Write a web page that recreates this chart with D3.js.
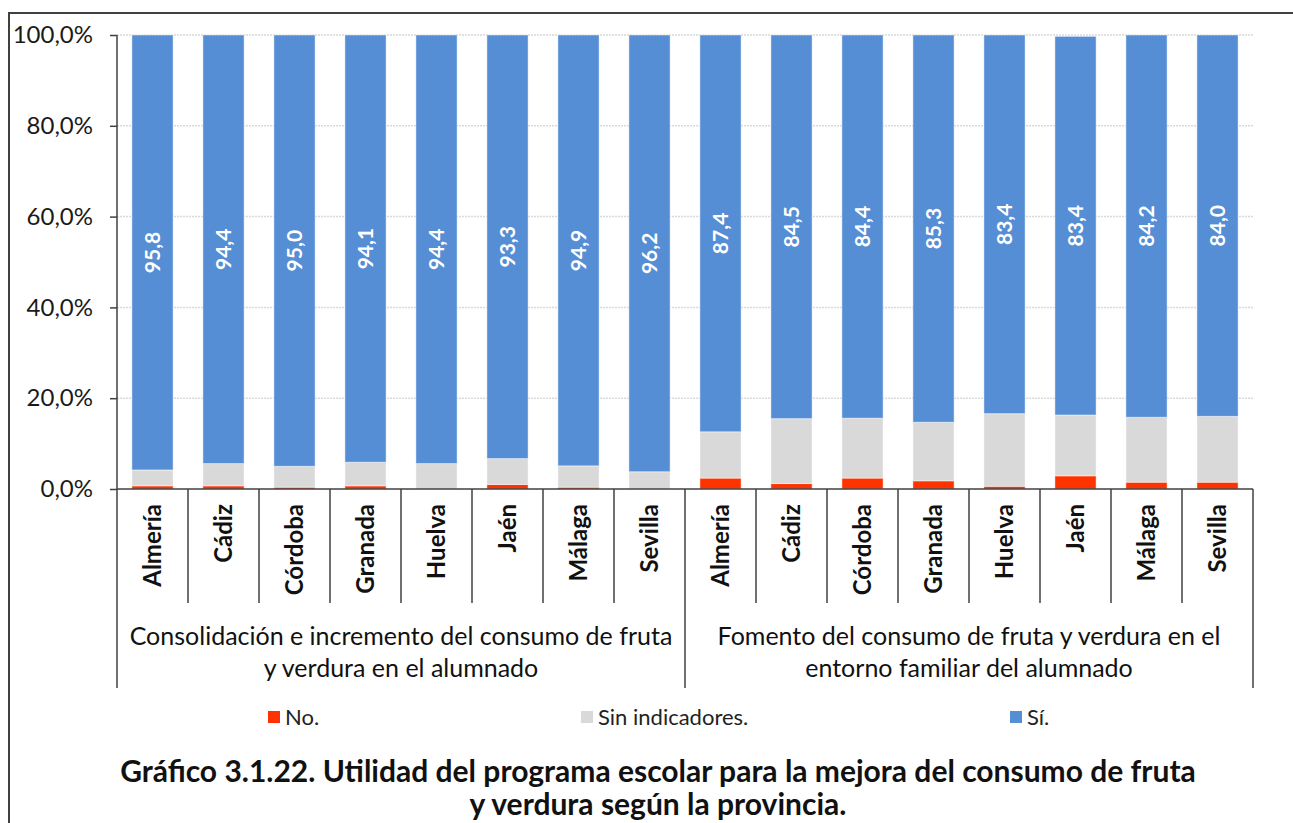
<!DOCTYPE html>
<html>
<head>
<meta charset="utf-8">
<script src="https://cdn.jsdelivr.net/npm/d3@7"></script>
<style>
  body { margin: 0; background: #fff; }
  text { font-family: Lato, "Open Sans", sans-serif; }
</style>
</head>
<body>
<div id="wrapper"></div>
<script>
const provinces = ["Almería", "Cádiz", "Córdoba", "Granada", "Huelva", "Jaén", "Málaga", "Sevilla"];
const groups = [
  ["Consolidación e incremento del consumo de fruta", "y verdura en el alumnado"],
  ["Fomento del consumo de fruta y verdura en el", "entorno familiar del alumnado"],
];
const seriesNames = ["No.", "Sin indicadores.", "Sí."];
const colors = ["#ff3300", "#d9d9d9", "#558ed5"];

// values per group, in province order
const noValues = [
  [0.7, 0.7, 0.4, 0.7, 0.0, 1.0, 0.4, 0.0],
  [2.4, 1.2, 2.4, 1.8, 0.6, 2.9, 1.5, 1.5],
];
const sinValues = [
  [3.5, 4.9, 4.6, 5.2, 5.6, 5.7, 4.7, 3.8],
  [10.2, 14.3, 13.2, 12.9, 16.0, 13.4, 14.3, 14.5],
];
const siValues = [
  [95.8, 94.4, 95.0, 94.1, 94.4, 93.3, 94.9, 96.2],
  [87.4, 84.5, 84.4, 85.3, 83.4, 83.4, 84.2, 84.0],
];
const yTicks = [0, 20, 40, 60, 80, 100];
const titleLines = [
  "Gráfico 3.1.22. Utilidad del programa escolar para la mejora del consumo de fruta",
  "y verdura según la provincia.",
];

const drawChart = () => {
  const width = 1293, height = 823;
  const rows = [];
  groups.forEach((g, gi) => {
    provinces.forEach((p, pi) => {
      rows.push({
        key: gi + "-" + p, province: p, group: gi,
        no: noValues[gi][pi], sin: sinValues[gi][pi], si: siValues[gi][pi],
      });
    });
  });

  const svg = d3.select("#wrapper").append("svg")
    .attr("width", width).attr("height", height);

  // outer frame (cropped chart border)
  svg.append("path")
    .attr("d", "M9,823 V13 H1293")
    .attr("fill", "none").attr("stroke", "#404040").attr("stroke-width", 2);

  const plot = { left: 117, right: 1253, top: 35, bottom: 489 };

  const xScale = d3.scaleBand()
    .domain(rows.map(d => d.key))
    .range([plot.left, plot.right])
    .paddingInner(0.42).paddingOuter(0.21);
  const yScale = d3.scaleLinear()
    .domain([0, 100])
    .range([plot.bottom, plot.top]);

  // gridlines
  svg.append("g")
    .selectAll("line").data(yTicks.filter(t => t > 0)).join("line")
    .attr("x1", plot.left).attr("x2", plot.right)
    .attr("y1", d => yScale(d)).attr("y2", d => yScale(d))
    .attr("stroke", "#d9d9d9").attr("stroke-width", 1.5)
    .attr("stroke-dasharray", "2,1");

  const stack = d3.stack().keys(["no", "sin", "si"]);
  const series = stack(rows);

  svg.append("g").selectAll("g").data(series).join("g")
    .attr("fill", (d, i) => colors[i])
    .selectAll("rect").data(d => d).join("rect")
      .attr("x", d => xScale(d.data.key))
      .attr("width", xScale.bandwidth())
      .attr("y", d => yScale(d[1]))
      .attr("height", d => Math.max(0, yScale(d[0]) - yScale(d[1])))
      .attr("stroke", "#ffffff").attr("stroke-opacity", 0.45).attr("stroke-width", 1);

  // value labels on the Sí segment
  svg.append("g").selectAll("text").data(series[2]).join("text")
    .attr("transform", d => {
      const cx = xScale(d.data.key) + xScale.bandwidth() / 2;
      const cy = yScale((d[0] + d[1]) / 2);
      return `translate(${cx},${cy}) rotate(-90)`;
    })
    .attr("text-anchor", "middle").attr("dy", "0.35em")
    .attr("fill", "#fff").attr("font-weight", "bold").attr("font-size", 21)
    .text(d => d3.format(".1f")(d.data.si).replace(".", ","));

  // y axis
  const yAxis = d3.axisLeft(yScale)
    .tickValues(yTicks)
    .tickSize(7).tickPadding(17)
    .tickFormat(d => d3.format(".1f")(d).replace(".", ",") + "%");
  const yG = svg.append("g")
    .attr("transform", `translate(${plot.left},0)`)
    .call(yAxis);
  yG.select(".domain").remove();
  yG.selectAll(".tick line").attr("stroke", "#404040").attr("stroke-width", 1.5);
  yG.selectAll(".tick text")
    .attr("font-size", 24).attr("fill", "#1a1a1a").attr("font-family", "Lato, sans-serif");

  const axisColor = "#404040";
  // left axis line extended down to the group box bottom
  svg.append("line")
    .attr("x1", plot.left).attr("x2", plot.left)
    .attr("y1", plot.top).attr("y2", 688)
    .attr("stroke", axisColor).attr("stroke-width", 1.5);
  // x axis baseline
  svg.append("line")
    .attr("x1", plot.left).attr("x2", plot.right)
    .attr("y1", plot.bottom).attr("y2", plot.bottom)
    .attr("stroke", axisColor).attr("stroke-width", 1.5);

  // category separators
  const step = xScale.step();
  const boundaries = d3.range(1, rows.length + 1).map(i => plot.left + i * step);
  svg.append("g").selectAll("line").data(boundaries).join("line")
    .attr("x1", d => d).attr("x2", d => d)
    .attr("y1", plot.bottom)
    .attr("y2", (d, i) => ((i + 1) % provinces.length === 0) ? 688 : 603)
    .attr("stroke", axisColor).attr("stroke-width", 1.5);

  // category labels
  svg.append("g").selectAll("text").data(rows).join("text")
    .attr("transform", d => `translate(${xScale(d.key) + xScale.bandwidth() / 2},504) rotate(-90)`)
    .attr("text-anchor", "end").attr("dy", "0.35em")
    .attr("font-weight", "bold").attr("font-size", 24).attr("fill", "#111")
    .text(d => d.province);

  // group labels
  groups.forEach((lines, gi) => {
    const cx = plot.left + (gi + 0.5) * provinces.length * step;
    svg.append("g").selectAll("text").data(lines).join("text")
      .attr("x", cx).attr("y", (d, i) => 645 + i * 32)
      .attr("text-anchor", "middle").attr("font-size", 25).attr("fill", "#111")
      .text(d => d);
  });

  // legend
  const legendX = [268, 581, 1010];
  const legend = svg.append("g").selectAll("g").data(seriesNames).join("g")
    .attr("transform", (d, i) => `translate(${legendX[i]},717)`);
  legend.append("rect")
    .attr("x", 0).attr("y", -6).attr("width", 12).attr("height", 12)
    .attr("fill", (d, i) => colors[i]);
  legend.append("text")
    .attr("x", 17).attr("dy", "0.35em")
    .attr("font-size", 22).attr("fill", "#222")
    .text(d => d);

  // title
  svg.append("g").selectAll("text").data(titleLines).join("text")
    .attr("x", 658).attr("y", (d, i) => 782 + i * 33)
    .attr("text-anchor", "middle")
    .attr("font-weight", "bold").attr("font-size", 30).attr("fill", "#111")
    .text(d => d);
};

drawChart();
</script>
</body>
</html>
